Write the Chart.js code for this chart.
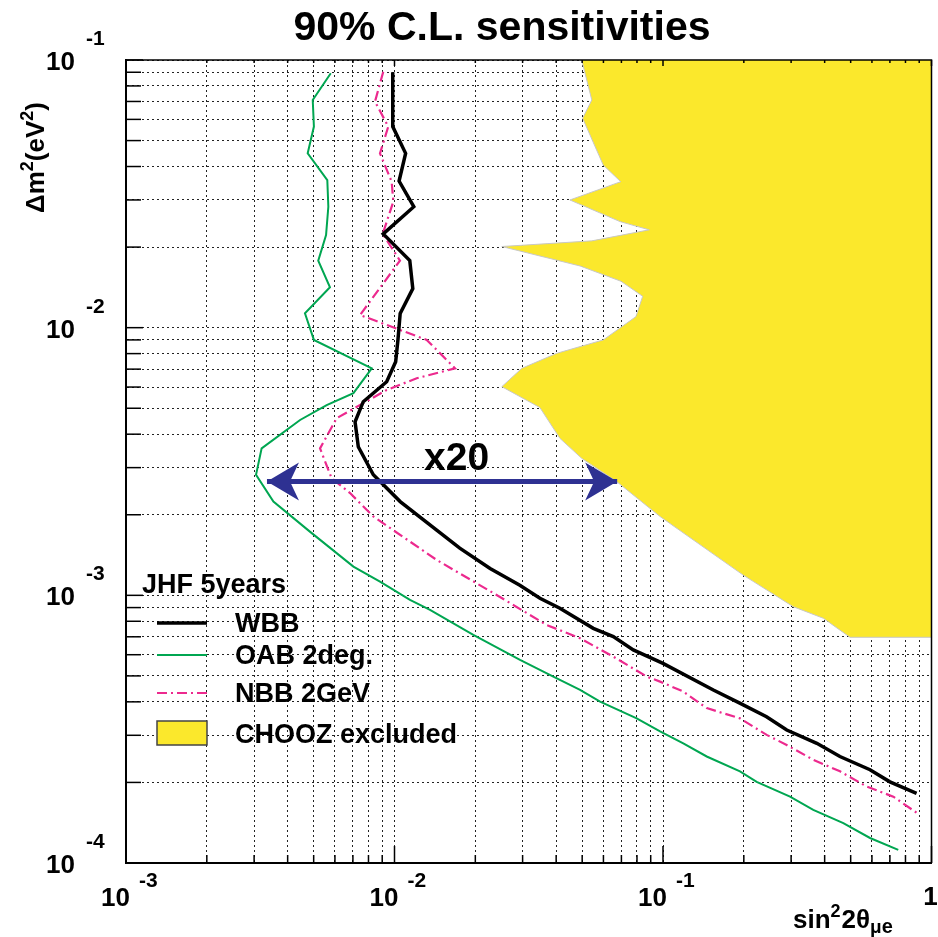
<!DOCTYPE html>
<html>
<head>
<meta charset="utf-8">
<script src="https://cdn.jsdelivr.net/npm/chart.js@4.4.0/dist/chart.umd.min.js"></script>
<style>
  html, body { margin: 0; padding: 0; background: #fff; }
  canvas { display: block; }
</style>
</head>
<body>
<canvas id="chart" width="938" height="937"></canvas>
<script>
// values (sin^2 2theta, delta m^2 in eV^2)
var wbbX = [0.00985, 0.00985, 0.0110, 0.0104, 0.0118, 0.00908, 0.0114, 0.0117, 0.0105, 0.0103, 0.0101, 0.00935, 0.00765, 0.00713, 0.00733, 0.00834, 0.0105, 0.0148, 0.0175, 0.0227, 0.0293, 0.0348, 0.0413, 0.055, 0.0653, 0.0775, 0.100, 0.154, 0.194, 0.243, 0.289, 0.374, 0.456, 0.590, 0.700, 0.880];
var wbbY = [0.090, 0.0564, 0.0448, 0.0353, 0.0283, 0.0224, 0.0178, 0.0140, 0.0113, 0.0090, 0.00746, 0.00628, 0.00529, 0.00445, 0.00359, 0.00282, 0.00224, 0.00171, 0.00150, 0.00126, 0.00109, 0.000975, 0.000895, 0.000753, 0.000701, 0.000625, 0.000557, 0.000443, 0.000395, 0.000352, 0.000314, 0.000280, 0.000250, 0.000223, 0.000201, 0.000182];

var oabX = [0.00579, 0.00496, 0.00501, 0.00475, 0.00562, 0.00567, 0.00556, 0.00520, 0.00575, 0.00464, 0.00501, 0.00823, 0.00703, 0.00559, 0.00445, 0.00320, 0.00305, 0.00354, 0.00484, 0.00703, 0.00883, 0.01142, 0.01356, 0.01966, 0.02934, 0.03904, 0.0491, 0.0583, 0.0798, 0.0975, 0.119, 0.1455, 0.1935, 0.2233, 0.2972, 0.3628, 0.4694, 0.5902, 0.752];
var oabY = [0.0892, 0.0709, 0.0564, 0.0448, 0.0356, 0.0283, 0.0222, 0.0178, 0.01416, 0.01132, 0.0090, 0.00705, 0.00569, 0.00514, 0.00452, 0.00354, 0.00282, 0.00224, 0.00173, 0.00128, 0.001125, 0.000961, 0.000882, 0.000711, 0.000574, 0.000497, 0.000443, 0.000401, 0.000347, 0.000310, 0.000280, 0.000250, 0.000220, 0.000201, 0.000177, 0.000158, 0.000141, 0.000124, 0.000112];

var nbbX = [0.00908, 0.00846, 0.00948, 0.00883, 0.00976, 0.0099, 0.00904, 0.01048, 0.00744, 0.01318, 0.0168, 0.0121, 0.00935, 0.00609, 0.00528, 0.00583, 0.00683, 0.00834, 0.01436, 0.0240, 0.03688, 0.0491, 0.0653, 0.087, 0.0975, 0.119, 0.1455, 0.1935, 0.2433, 0.2888, 0.3628, 0.4562, 0.5737, 0.7209, 0.881];
var nbbY = [0.0904, 0.0699, 0.0564, 0.0448, 0.0351, 0.0296, 0.0224, 0.0178, 0.01115, 0.0090, 0.00705, 0.00647, 0.00585, 0.00459, 0.00354, 0.00274, 0.00241, 0.00197, 0.001356, 0.001003, 0.000775, 0.000691, 0.00059, 0.000497, 0.000476, 0.000437, 0.000379, 0.000347, 0.000301, 0.000276, 0.000243, 0.00022, 0.000193, 0.000177, 0.000154];

var choozX = [0.0498, 0.0543, 0.0502, 0.0599, 0.0696, 0.0450, 0.0692, 0.0889, 0.0543, 0.0251, 0.0491, 0.0698, 0.0840, 0.0793, 0.0599, 0.0402, 0.0298, 0.0251, 0.0348, 0.0413, 0.0498, 0.0672, 0.0975, 0.199, 0.3055, 0.3955, 0.497, 1, 1];
var choozY = [0.1, 0.0709, 0.0606, 0.0405, 0.0351, 0.0300, 0.0249, 0.0232, 0.0211, 0.0201, 0.0170, 0.0149, 0.0131, 0.0110, 0.0090, 0.00802, 0.00705, 0.00602, 0.00503, 0.00386, 0.00325, 0.00266, 0.00197, 0.00119, 0.000907, 0.000821, 0.000697, 0.000697, 0.1];

// the "x20" arrow
var arrowX = [0.00335, 0.0675];
var arrowY = [0.00266, 0.00266];

// axes
var xMajor = [0.001, 0.01, 0.1, 1];
var xLabelBase = ['10', '10', '10', '1'];
var xLabelExp = ['-3', '-2', '-1', ''];
var yMajor = [0.0001, 0.001, 0.01, 0.1];
var yLabelExp = ['-4', '-3', '-2', '-1'];
var minorSteps = [1, 2, 3, 4, 5, 6, 7, 8, 9];

var fontFam = "'Liberation Sans', Arial, Helvetica, sans-serif";

function toPoints(xs, ys) {
    return xs.map(function(x, i) { return {x: x, y: ys[i]}; });
}

function tickValues(majors) {
    var vals = [];
    for (var i = 0; i < majors.length - 1; i++) {
        minorSteps.forEach(function(k) { vals.push(majors[i] * k); });
    }
    vals.push(majors[majors.length - 1]);
    return vals;
}

function isMajor(v, majors) {
    return majors.some(function(m) { return Math.abs(v / m - 1) < 1e-6; });
}

function drawRuns(ctx, runs, x, y) {
    runs.forEach(function(r) {
        ctx.font = r.font;
        ctx.fillText(r.text, x, y + (r.dy || 0));
        x += ctx.measureText(r.text).width + (r.gap || 0);
    });
}

var labelPlugin = {
    id: 'labels',
    afterDatasetsDraw: function(chart) {
        var ctx = chart.ctx;
        var xs = chart.scales.x, ys = chart.scales.y;
        var a = chart.chartArea;

        ctx.save();
        // tick marks, inside
        ctx.strokeStyle = '#000';
        ctx.lineWidth = 1.5;
        ctx.setLineDash([]);
        tickValues(xMajor).forEach(function(v) {
            var px = xs.getPixelForValue(v);
            var len = isMajor(v, xMajor) ? 17 : 8;
            ctx.beginPath();
            ctx.moveTo(px, a.bottom);
            ctx.lineTo(px, a.bottom - len);
            ctx.moveTo(px, a.top);
            ctx.lineTo(px, a.top + (isMajor(v, xMajor) ? 6 : 3));
            ctx.stroke();
        });
        tickValues(yMajor).forEach(function(v) {
            var py = ys.getPixelForValue(v);
            var len = isMajor(v, yMajor) ? 17 : 15;
            ctx.beginPath();
            ctx.moveTo(a.left, py);
            ctx.lineTo(a.left + len, py);
            ctx.stroke();
        });
        // top and right frame
        ctx.beginPath();
        ctx.moveTo(a.left, a.top);
        ctx.lineTo(a.right, a.top);
        ctx.lineTo(a.right, a.bottom);
        ctx.stroke();

        // arrow heads
        var meta = chart.getDatasetMeta(0);
        var p0 = meta.data[0], p1 = meta.data[1];
        ctx.fillStyle = chart.data.datasets[0].borderColor;
        [[p0, 1], [p1, -1]].forEach(function(h) {
            var tx = h[0].x, ty = h[0].y, d = h[1];
            ctx.beginPath();
            ctx.moveTo(tx, ty);
            ctx.lineTo(tx + d * 32, ty - 19);
            ctx.lineTo(tx + d * 23, ty);
            ctx.lineTo(tx + d * 32, ty + 19);
            ctx.closePath();
            ctx.fill();
        });
        ctx.restore();
    },
    afterDraw: function(chart) {
        var ctx = chart.ctx;
        var xs = chart.scales.x, ys = chart.scales.y;
        var ds = chart.data.datasets;
        ctx.save();
        ctx.fillStyle = '#000';
        ctx.textBaseline = 'alphabetic';

        // title
        ctx.font = 'bold 41px ' + fontFam;
        ctx.textAlign = 'center';
        ctx.fillText('90% C.L. sensitivities', 502, 40);

        // x tick labels
        xMajor.forEach(function(v, i) {
            var px = xs.getPixelForValue(v);
            ctx.font = 'bold 26px ' + fontFam;
            if (xLabelExp[i] === '') {
                ctx.textAlign = 'center';
                ctx.fillText(xLabelBase[i], px - 1, 905);
                return;
            }
            ctx.textAlign = 'right';
            ctx.fillText(xLabelBase[i], px + 4, 906);
            ctx.textAlign = 'left';
            ctx.font = 'bold 21px ' + fontFam;
            ctx.fillText(xLabelExp[i], px + 13, 887);
        });

        // y tick labels
        yMajor.forEach(function(v, i) {
            var py = ys.getPixelForValue(v);
            ctx.font = 'bold 26px ' + fontFam;
            ctx.textAlign = 'right';
            ctx.fillText('10', 75, py + 10);
            ctx.textAlign = 'left';
            ctx.font = 'bold 21px ' + fontFam;
            ctx.fillText(yLabelExp[i], 86, py - 15);
        });

        // x axis title
        ctx.textAlign = 'left';
        drawRuns(ctx, [
            {text: 'sin', font: 'bold 26px ' + fontFam},
            {text: '2', font: 'bold 18px ' + fontFam, dy: -11, gap: 1},
            {text: '2', font: 'bold 26px ' + fontFam},
            {text: '\u03b8', font: 'bold 26px ' + fontFam},
            {text: '\u03bc', font: 'bold 19px ' + fontFam, dy: 5},
            {text: 'e', font: 'bold 20px ' + fontFam, dy: 5}
        ], 793, 928);

        // y axis title
        ctx.save();
        ctx.translate(44, 213);
        ctx.rotate(-Math.PI / 2);
        drawRuns(ctx, [
            {text: '\u0394m', font: 'bold 26px ' + fontFam},
            {text: '2', font: 'bold 18px ' + fontFam, dy: -11},
            {text: '(eV', font: 'bold 26px ' + fontFam},
            {text: '2', font: 'bold 18px ' + fontFam, dy: -11},
            {text: ')', font: 'bold 26px ' + fontFam}
        ], 0, 0);
        ctx.restore();

        // x20 label
        ctx.font = 'bold 39px ' + fontFam;
        ctx.fillText('x20', 424, 470);

        // legend
        ctx.font = 'bold 27px ' + fontFam;
        ctx.fillText('JHF 5years', 142, 593);
        var rows = [
            {ds: ds[1], y: 623, ty: 632},
            {ds: ds[3], y: 655, ty: 664},
            {ds: ds[2], y: 693, ty: 702}
        ];
        rows.forEach(function(r) {
            ctx.save();
            ctx.strokeStyle = r.ds.borderColor;
            ctx.lineWidth = r.ds.borderWidth;
            ctx.setLineDash(r.ds.borderDash || []);
            ctx.beginPath();
            ctx.moveTo(157, r.y);
            ctx.lineTo(207, r.y);
            ctx.stroke();
            ctx.restore();
            ctx.fillText(r.ds.label, 235, r.ty);
        });
        ctx.fillStyle = ds[4].backgroundColor;
        ctx.fillRect(157, 721, 50, 24);
        ctx.strokeStyle = '#444';
        ctx.lineWidth = 1.5;
        ctx.strokeRect(157, 721, 50, 24);
        ctx.fillStyle = '#000';
        ctx.fillText(ds[4].label, 235, 743);
        ctx.restore();
    }
};

var ctx = document.getElementById('chart').getContext('2d');
var chart = new Chart(ctx, {
    type: 'scatter',
    data: {
        datasets: [{
            label: 'x20',
            data: toPoints(arrowX, arrowY),
            showLine: true,
            borderColor: '#2e3192',
            borderWidth: 5,
            pointRadius: 0
        }, {
            label: 'WBB',
            data: toPoints(wbbX, wbbY),
            showLine: true,
            borderColor: '#000000',
            borderWidth: 3.5,
            pointRadius: 0
        }, {
            label: 'NBB 2GeV',
            data: toPoints(nbbX, nbbY),
            showLine: true,
            borderColor: '#ec2a8e',
            borderWidth: 2.2,
            borderDash: [10, 4, 2, 4],
            pointRadius: 0
        }, {
            label: 'OAB 2deg.',
            data: toPoints(oabX, oabY),
            showLine: true,
            borderColor: '#00a651',
            borderWidth: 2,
            pointRadius: 0
        }, {
            label: 'CHOOZ excluded',
            data: toPoints(choozX, choozY),
            showLine: true,
            fill: 'shape',
            backgroundColor: '#fbe82c',
            borderColor: '#c8c8c8',
            borderWidth: 1,
            pointRadius: 0
        }]
    },
    options: {
        responsive: false,
        animation: false,
        layout: {padding: {left: 126, top: 60, right: 6.5, bottom: 74}},
        elements: {line: {tension: 0}},
        plugins: {legend: {display: false}, tooltip: {enabled: false}},
        scales: {
            x: {
                type: 'logarithmic',
                min: 0.001,
                max: 1,
                afterBuildTicks: function(s) {
                    s.ticks = tickValues(xMajor).map(function(v) { return {value: v}; });
                },
                afterFit: function(s) { s.height = 0; },
                ticks: {display: false},
                grid: {color: '#222', lineWidth: 1, drawTicks: false},
                border: {display: true, color: '#000', width: 2, dash: [2, 3]}
            },
            y: {
                type: 'logarithmic',
                min: 0.0001,
                max: 0.1,
                afterBuildTicks: function(s) {
                    s.ticks = tickValues(yMajor).map(function(v) { return {value: v}; });
                },
                afterFit: function(s) { s.width = 0; },
                ticks: {display: false},
                grid: {color: '#222', lineWidth: 1, drawTicks: false},
                border: {display: true, color: '#000', width: 2, dash: [2, 3]}
            }
        }
    },
    plugins: [labelPlugin]
});
</script>
</body>
</html>
